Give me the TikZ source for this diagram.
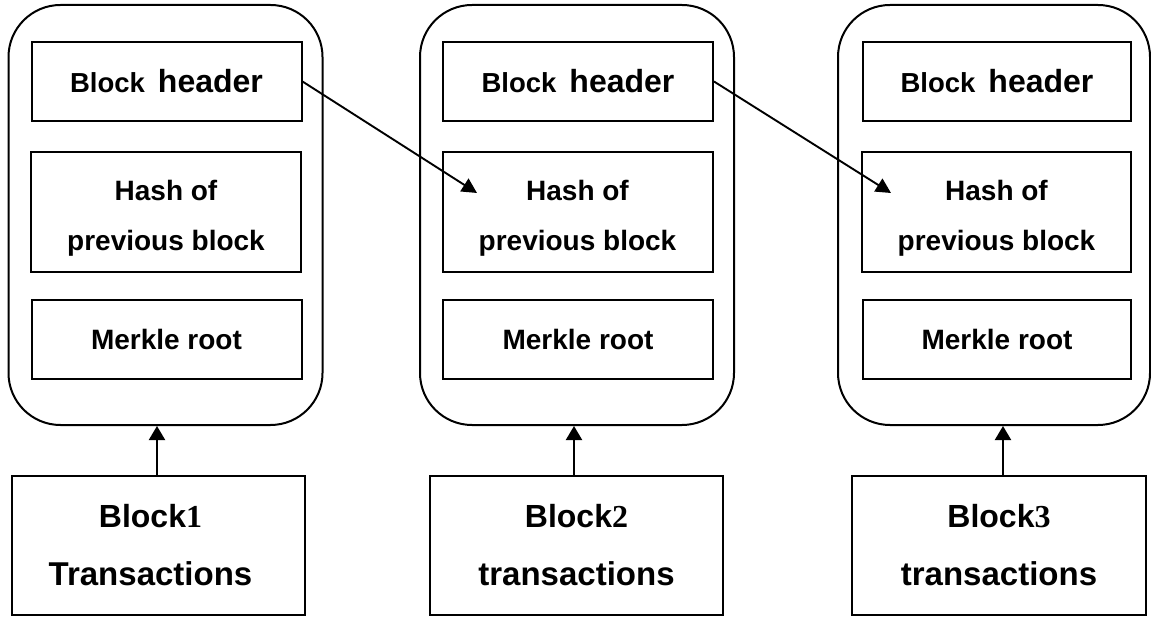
\documentclass[tikz,border=0pt]{standalone}
\usepackage{fontspec}
\setmainfont{Liberation Sans}
\newfontfamily\digitfont{Liberation Serif}
\usetikzlibrary{arrows.meta}
\begin{document}
\begin{tikzpicture}[x=1pt,y=-1pt,
  outerbox/.style={draw, line width=2pt, rounded corners=52pt, inner sep=0pt,
    minimum width=314pt, minimum height=420pt},
  fieldbox/.style={draw, line width=2pt, inner sep=0pt, minimum width=270pt,
    align=center, font=\bfseries\fontsize{28}{50}\selectfont},
  headbox/.style={fieldbox, minimum height=79pt, font=\bfseries\fontsize{27.5}{30}\selectfont},
  hashbox/.style={fieldbox, minimum height=120pt},
  rootbox/.style={fieldbox, minimum height=79pt},
  txbox/.style={draw, line width=2pt, inner sep=0pt, minimum width=293pt,
    minimum height=139pt, align=center, font=\bfseries\fontsize{32}{58}\selectfont},
  link/.style={-{Triangle[length=15pt,width=15pt]}, line width=1.9pt},
  uplink/.style={-{Triangle[length=14pt,width=16pt]}, line width=2pt}
]
\useasboundingbox (0,0) rectangle (1151,617);
\newcommand{\hdr}{Block\hspace{13pt}{\fontsize{32}{32}\selectfont header}}
\newcommand{\hsh}{\rule{0pt}{32pt}Hash of\\previous block}
% block 1
\node[outerbox] (o1) at (165.5,215) {};
\node[headbox] (h1) at (166.5,81.5) {\hdr};
\node[hashbox] (p1) at (166,212) {\hsh};
\node[rootbox] (m1) at (166.5,339.5) {Merkle root};
\node[txbox] (t1) at (158.5,545.5) {Block{\digitfont\bfseries 1}\hspace*{16pt}\\{\fontsize{33}{58}\selectfont Transactions\hspace*{16pt}}};
% block 2
\node[outerbox] (o2) at (577,215) {};
\node[headbox] (h2) at (578,81.5) {\hdr};
\node[hashbox] (p2) at (577.5,212) {\hsh};
\node[rootbox] (m2) at (578,339.5) {Merkle root};
\node[txbox] (t2) at (576.5,545.5) {Block{\digitfont\bfseries 2}\\{\fontsize{33}{58}\selectfont transactions}};
% block 3
\node[outerbox, minimum width=312pt] (o3) at (994,215) {};
\node[headbox, minimum width=268pt] (h3) at (997,81.5) {\hdr};
\node[hashbox, minimum width=269pt] (p3) at (996.5,212) {\hsh};
\node[rootbox, minimum width=268pt] (m3) at (997,339.5) {Merkle root};
\node[txbox, minimum width=294pt] (t3) at (999,545.5) {Block{\digitfont\bfseries 3}\\{\fontsize{33}{58}\selectfont transactions}};
% links between blocks
\coordinate (a2) at (477,193);
\coordinate (a3) at (891,193);
\draw[link] (h1.east) -- (a2);
\draw[link] (h2.east) -- (a3);
% transactions to blocks
\draw[uplink] ([xshift=-1.5pt]t1.north) -- ([xshift=-1.5pt]t1.north |- o1.south);
\draw[uplink] ([xshift=-2.5pt]t2.north) -- ([xshift=-2.5pt]t2.north |- o2.south);
\draw[uplink] ([xshift=4pt]t3.north) -- ([xshift=4pt]t3.north |- o3.south);
\end{tikzpicture}
\end{document}
